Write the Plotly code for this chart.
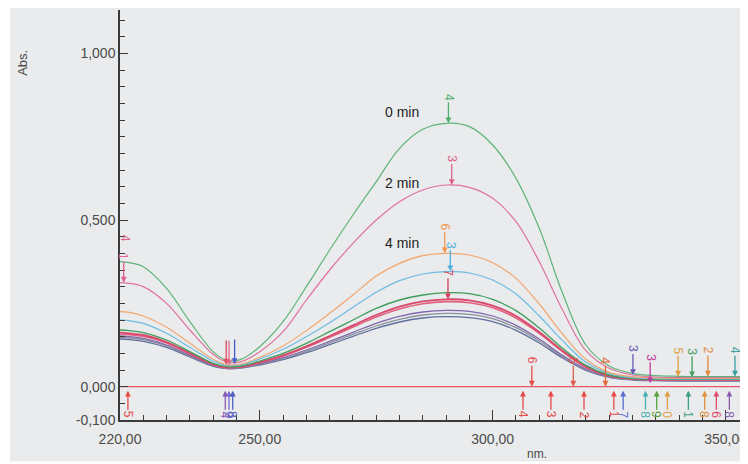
import plotly.graph_objects as go

# ---------------- data ----------------
wavelength = [220, 222, 225, 230, 235, 240, 243, 246, 250, 255, 260, 265, 270, 275, 280,
              285, 290, 295, 300, 305, 310, 315, 320, 325, 330, 335, 340, 345, 350, 355]

abs_0min = [0.375, 0.372, 0.360, 0.295, 0.195, 0.105, 0.078, 0.082, 0.120, 0.195, 0.300, 0.410, 0.515, 0.615, 0.715,
            0.772, 0.790, 0.780, 0.725, 0.625, 0.475, 0.280, 0.125, 0.062, 0.040, 0.033, 0.031, 0.030, 0.030, 0.030]
abs_2min = [0.312, 0.310, 0.300, 0.250, 0.170, 0.097, 0.073, 0.075, 0.105, 0.165, 0.260, 0.350, 0.430, 0.500, 0.555,
            0.590, 0.605, 0.598, 0.565, 0.495, 0.375, 0.230, 0.108, 0.055, 0.035, 0.029, 0.027, 0.027, 0.027, 0.027]
abs_4min = [0.225, 0.223, 0.212, 0.178, 0.130, 0.082, 0.066, 0.068, 0.088, 0.122, 0.168, 0.220, 0.275, 0.332, 0.370,
            0.393, 0.400, 0.395, 0.372, 0.325, 0.248, 0.158, 0.082, 0.043, 0.030, 0.026, 0.025, 0.025, 0.025, 0.025]
abs_s4 = [0.200, 0.198, 0.190, 0.160, 0.118, 0.077, 0.064, 0.066, 0.083, 0.112, 0.150, 0.192, 0.238, 0.283, 0.318,
          0.338, 0.345, 0.341, 0.320, 0.278, 0.212, 0.138, 0.073, 0.040, 0.027, 0.024, 0.023, 0.023, 0.023, 0.023]
abs_s5 = [0.170, 0.168, 0.162, 0.140, 0.105, 0.070, 0.060, 0.062, 0.077, 0.100, 0.130, 0.165, 0.200, 0.235, 0.260,
          0.275, 0.282, 0.279, 0.262, 0.228, 0.176, 0.115, 0.064, 0.035, 0.025, 0.022, 0.022, 0.022, 0.022, 0.022]
abs_s6 = [0.162, 0.160, 0.155, 0.134, 0.100, 0.067, 0.058, 0.060, 0.073, 0.094, 0.121, 0.152, 0.184, 0.215, 0.240,
          0.256, 0.262, 0.259, 0.243, 0.212, 0.164, 0.108, 0.060, 0.033, 0.024, 0.021, 0.021, 0.021, 0.021, 0.021]
abs_s7 = [0.158, 0.156, 0.151, 0.131, 0.098, 0.066, 0.057, 0.059, 0.072, 0.092, 0.118, 0.148, 0.179, 0.209, 0.233,
          0.249, 0.255, 0.252, 0.237, 0.206, 0.160, 0.105, 0.058, 0.032, 0.023, 0.021, 0.020, 0.020, 0.020, 0.020]
abs_s8 = [0.152, 0.150, 0.145, 0.125, 0.094, 0.064, 0.056, 0.058, 0.069, 0.087, 0.110, 0.136, 0.163, 0.190, 0.211,
          0.224, 0.229, 0.226, 0.212, 0.184, 0.143, 0.094, 0.053, 0.030, 0.022, 0.020, 0.019, 0.019, 0.019, 0.019]
abs_s9 = [0.148, 0.146, 0.141, 0.122, 0.092, 0.063, 0.055, 0.057, 0.067, 0.084, 0.106, 0.131, 0.157, 0.182, 0.202,
          0.215, 0.220, 0.217, 0.204, 0.177, 0.137, 0.090, 0.051, 0.029, 0.021, 0.019, 0.018, 0.018, 0.018, 0.018]
abs_s10 = [0.143, 0.141, 0.136, 0.118, 0.089, 0.061, 0.054, 0.056, 0.065, 0.081, 0.102, 0.126, 0.151, 0.175, 0.194,
           0.206, 0.210, 0.207, 0.195, 0.169, 0.131, 0.086, 0.049, 0.028, 0.020, 0.018, 0.017, 0.017, 0.017, 0.017]

baseline_x = [220, 355]
baseline_y = [0.0, 0.0]

x_tick_vals = [220, 250, 300, 350]
x_tick_text = ["220,00", "250,00", "300,00", "350,00"]
y_tick_vals = [-0.1, 0.0, 0.5, 1.0]
y_tick_text = ["-0,100", "0,000", "0,500", "1,000"]

time_labels = ["0 min", "2 min", "4 min"]
time_label_x = [280.5, 280.5, 280.5]
time_label_y = [0.823, 0.611, 0.431]

# peak-pick markers above the traces: wavelength, absorbance, label
marks_x = [290.5, 291.2, 289.7, 290.9, 290.4, 220.8, 242.8, 243.4, 244.6,
           308.4, 317.3, 324.2, 330.1, 333.8, 339.8, 342.8, 346.2, 352.0]
marks_y = [0.790, 0.605, 0.400, 0.346, 0.262, 0.312, 0.066, 0.064, 0.068,
           0.000, 0.000, 0.000, 0.035, 0.010, 0.030, 0.028, 0.030, 0.030]
marks_t = ["4", "3", "6", "3", "7", "1", "", "", "",
           "6", "5", "4", "3", "3", "5", "3", "2", "4"]

# markers below the zero line
below_x = [221.7, 306.5, 312.5, 319.6, 326.0, 328.0, 332.8, 335.2, 337.5, 342.0, 345.5, 348.0, 350.8,
           242.6, 243.4, 244.2]
below_t = ["5", "4", "3", "2", "1", "7", "8", "9", "0", "1", "8", "6", "8",
           "4", "0", "8"]

colors = ["#5fb47a", "#e0729e", "#f2a66e", "#6cbbe2", "#3f9d5c", "#d8496c",
          "#e2607e", "#8068ae", "#8a909c", "#5f6f9c"]
series = [abs_0min, abs_2min, abs_4min, abs_s4, abs_s5, abs_s6, abs_s7, abs_s8, abs_s9, abs_s10]
widths = [1.2, 1.2, 1.2, 1.2, 1.3, 1.8, 1.6, 1.3, 1.3, 1.3]

mark_colors = ["#4fae6c", "#e0608e", "#f0964e", "#4fb0e0", "#d8405e", "#e0608e",
               "#e04a5a", "#e06a8a", "#4a5ccc",
               "#e84a4a", "#e05a4a", "#e06a3a", "#6a5ab8", "#c03aa0", "#e0a040", "#4aa060", "#e08a40", "#3aa0a0"]
below_colors = ["#e84a4a", "#e84a4a", "#e84a4a", "#e84a4a", "#e84a4a", "#5a6ad0", "#4ab0b0", "#5aa040",
                "#e0a040", "#3aa080", "#e09040", "#e04a6a", "#8a5ab0", "#8a5ab0", "#7a6ad0", "#5060c0"]

FONT = "Liberation Sans, Arial"

fig = go.Figure()

fig.add_trace(go.Scatter(x=baseline_x, y=baseline_y, mode="lines",
                         line=dict(color="#e8566c", width=1.1), hoverinfo="skip"))

for ys, c, w in zip(reversed(series), reversed(colors), reversed(widths)):
    fig.add_trace(go.Scatter(x=wavelength, y=ys, mode="lines",
                             line=dict(color=c, width=w, shape="spline", smoothing=1.0),
                             hoverinfo="skip"))

annotations = []
for t, x, y in zip(time_labels, time_label_x, time_label_y):
    annotations.append(dict(x=x, y=y, text=t, showarrow=False,
                            font=dict(family=FONT, size=14, color="#1e1e1e")))

for x, y, t, c in zip(marks_x, marks_y, marks_t, mark_colors):
    annotations.append(dict(x=x, y=y, text=t if t else "&#8203;", showarrow=True, ax=0, ay=-26,
                            arrowhead=2, arrowsize=0.9, arrowwidth=1.3, arrowcolor=c,
                            textangle=90, font=dict(family=FONT, size=12, color=c)))

for x, t, c in zip(below_x, below_t, below_colors):
    annotations.append(dict(x=x, y=-0.012, text=t, showarrow=True, ax=0, ay=24,
                            arrowhead=2, arrowsize=0.9, arrowwidth=1.3, arrowcolor=c,
                            textangle=90, font=dict(family=FONT, size=12, color=c)))

annotations.append(dict(x=221.0, y=0.445, text="4", showarrow=False, textangle=90,
                        font=dict(family=FONT, size=12, color="#e0608e")))
annotations.append(dict(xref="paper", yref="paper", x=-0.1545, y=0.871, text="Abs.", showarrow=False,
                        xanchor="center", yanchor="middle",
                        textangle=-90, font=dict(family=FONT, size=13, color="#4a4a4a")))
annotations.append(dict(xref="paper", yref="paper", x=0.664, y=-0.084, text="nm.", showarrow=False,
                        xanchor="center", yanchor="middle",
                        font=dict(family=FONT, size=12, color="#4a4a4a")))

fig.update_layout(
    width=748, height=464,
    margin=dict(l=112, r=8, t=2, b=52),
    paper_bgcolor="#ffffff",
    plot_bgcolor="rgba(0,0,0,0)",
    showlegend=False,
    font=dict(family=FONT, size=14, color="#4c4c4c"),
    annotations=annotations,
    shapes=[dict(type="rect", xref="paper", yref="paper", x0=-0.1752, x1=1.02, y0=-0.101, y1=1.03,
                 fillcolor="#e9ebec", line=dict(width=0), layer="below")],
    xaxis=dict(range=[220, 354.8], showgrid=False, zeroline=False, showline=True,
               linecolor="#3a3a3a", linewidth=1.5, tickvals=x_tick_vals, ticktext=x_tick_text,
               ticks="inside", ticklen=10, tickcolor="#3a3a3a", tickwidth=1.3, ticklabelstandoff=5,
               tickfont=dict(size=14, color="#4c4c4c"),
               minor=dict(tick0=220, dtick=5, ticks="inside", ticklen=5, tickcolor="#3a3a3a", tickwidth=1.2)),
    yaxis=dict(range=[-0.1, 1.13], showgrid=False, zeroline=False, showline=True,
               linecolor="#3a3a3a", linewidth=1.5, tickvals=y_tick_vals, ticktext=y_tick_text,
               ticks="inside", ticklen=8, tickcolor="#3a3a3a", tickwidth=1.3,
               tickfont=dict(size=14, color="#4c4c4c"),
               minor=dict(tick0=0, dtick=0.05, ticks="inside", ticklen=5, tickcolor="#3a3a3a", tickwidth=1.2)),
)

fig.write_html("out.html")
